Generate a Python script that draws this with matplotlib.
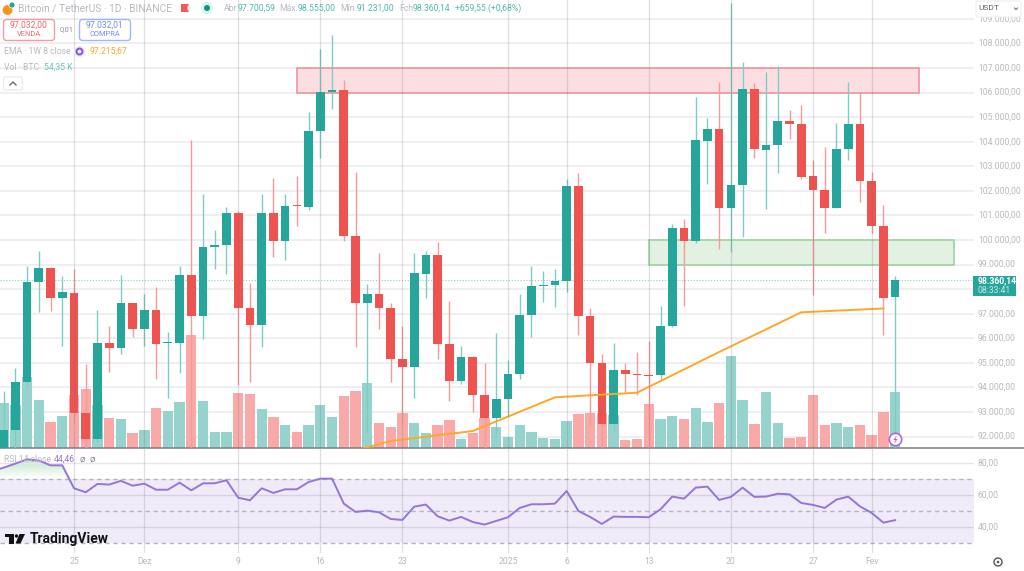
import numpy as np
import matplotlib
matplotlib.use("Agg")
import matplotlib.pyplot as plt
from matplotlib.patches import Rectangle, FancyBboxPatch, Circle

plt.rcParams['font.family'] = ['Roboto', 'DejaVu Sans']

# day index: 0 = 25 Nov 2024
first_day = -6
opens = [91455,92269,94223,98293,98862,97641,97857,92973,91903,95822,95606,97438,96380,97153,95798,95810,98577,
         96909,99717,99798,101101,97247,96542,101101,99974,101426,101357,104438,106026,106107,100177,97438,97804,
         97247,95159,94845,98630,99391,95769,94263,95252,93693,92757,93531,94548,96949,98130,98183,98333,102212,
         96921,95008,92513,94711,94560,94507,94507,96502,100490,99961,104044,104520,101304,102240,106148,103677,
         103868,104845,104735,102607,102049,101304,103706,104723,102403,100584,97700]
closes = [92269,94235,98293,98862,97641,97886,92961,91903,95810,95606,97438,96380,97153,95781,95838,98577,96909,
          99717,99798,101101,97234,96542,101101,99974,101398,101386,104451,106026,106107,100177,97426,97804,97234,
          95159,94845,98659,99391,95769,94263,95252,93693,92757,93531,94560,96949,98130,98183,98333,102212,96921,
          95008,92513,94711,94548,94495,94479,96514,100490,99961,104072,104520,101304,102240,106148,103706,103881,
          104845,104723,102578,102037,101304,103718,104723,102403,100584,97654,98360]
highs = [93856,94805,98956,99554,98903,98537,98822,94955,97153,96514,98577,97438,97804,98101,96270,98956,104072,
         101874,100409,101345,101195,98252,101874,102525,101874,102619,105224,107776,108345,106514,102782,98211,
         99485,97438,96502,99473,99554,99933,97519,95688,95293,94996,96217,95118,97804,98944,98753,98822,102485,
         102729,97247,95362,95810,95008,95444,95891,97316,100653,100857,105834,104980,106433,109648,107247,106392,
         106840,107096,105293,105496,103258,103787,104776,106445,106026,102770,101426,98555]
lows = [91400,91536,94031,97084,97112,95700,92566,91536,91781,94642,95362,96066,95688,94357,93571,94589,91536,
        95973,98822,98630,94100,94223,95659,99310,99188,100584,101223,103339,105334,99961,95659,92200,96380,94235,
        92472,93571,97641,95159,93462,94141,93002,91536,91996,92810,94357,96066,97491,97275,97898,96148,92472,
        91536,92188,93775,93693,91536,94345,96461,97316,99900,102281,99636,99526,100124,103339,101264,102741,
        104113,102485,97763,100287,101304,103258,101561,100287,96135,91231]

# volume in thousands of BTC (last bar 54.35 K)
volumes = [44,42,69,47,25,31,51,57,42,29,28,15,17,39,36,45,110,46,16,16,53,52,38,30,22,16,22,42,30,50,55,63,
           24,20,34,24,15,22,27,9,15,29,20,11,22,16,10,9,26,33,34,34,32,8,9,43,28,31,28,39,25,44,89,47,23,54,
           24,10,11,51,22,24,20,22,13,35,54.35]

ema_days = [20,27,34,41,48,55,62,69]
ema_vals = [90926,91821,92228,93600,93787,95444,97059,97215]

rsi_first_day = -7
rsi_vals = [75,77.3,79.8,82.5,81.7,78.75,78.75,64.4,61.9,67.1,66.7,69,66,67.3,63.5,63.5,67.9,63.1,67.5,67.5,
            69.4,58.5,56.9,64.4,61.5,63.75,63.75,68.3,70.4,70.4,54.8,49.6,50.4,49.4,45.2,44.6,52.9,54.2,46.9,
            44.2,46.5,43.3,41.7,44,46.3,52.1,54.4,54.4,54.8,62.7,50.2,46.5,42.1,46.7,46.5,46.5,46.3,51.25,59.2,
            57.9,64.8,65.4,57.1,59,64.8,59,59.2,61,60.6,55.2,54,52.1,57.3,59.2,53.1,49,42.9,44.46]

x_tick_days = [0,6,14,21,28,37,42,49,56,63,68]
x_tick_labels = ['25','Dez','9','16','23','2025','6','13','20','27','Fev']
price_ticks = list(range(92000,110000,1000))
hidden_price_labels = [98000]  # covered by the last-price tag in the reference
rsi_ticks = [40,60,80]
rsi_dash = [30,50,70]
sell_zone = (19.05,72.06,106000,107000)
buy_zone = (49.05,75.06,99000,100000)
last_price = 98360.14

UP = '#26a69a'; DOWN = '#ef5350'; UPV = '#96d3cc'; DOWNV = '#f8a9a8'
GRID = '#ebebed'; TXT = '#b8b9c0'
FS = 6.2

W, H = 1024, 571
fig = plt.figure(figsize=(W/100, H/100), dpi=100, facecolor='white')
def axpx(x0, y0, x1, y1, **k):
    return fig.add_axes([x0/W, 1-y1/H, (x1-x0)/W, (y1-y0)/H], **k)

RIGHT = 974
xlim = ((0-74)/11.73, (RIGHT-74)/11.73)
PX = 1/11.73
ax = axpx(0, 0, RIGHT, 448)
ax.set_xlim(*xlim)
ax.set_ylim(109770-40.7*448, 109770)
axv = ax.twinx()
axv.set_ylim(0, 448*0.97)
axv.set_zorder(1); ax.set_zorder(2); ax.patch.set_alpha(0); axv.patch.set_facecolor('white')

rsi = axpx(0, 449, RIGHT, 553)
rsi.set_xlim(*xlim)
rsi_ylim = (80-(553-463.3)/1.6, 80+(463.3-449)/1.6)
rsi.set_ylim(*rsi_ylim)

for a in (ax, axv, rsi):
    for s in a.spines.values():
        s.set_visible(False)
    a.set_xticks([]); a.set_yticks([])
    a.tick_params(length=0)

days = np.arange(first_day, first_day+len(opens))

label_x = (978-74)*PX
for p in price_ticks:
    axv.plot(xlim, [(p-ax.get_ylim()[0])/40.7*0.97]*2, color=GRID, lw=1.1, zorder=0)
    if p not in hidden_price_labels:
        ax.text(label_x, p, f"{p:,}".replace(',', '.')+',00', color=TXT, fontsize=FS,
                ha='left', va='center', clip_on=False, zorder=6)
for d in x_tick_days:
    ax.axvline(d, color='#70707a', lw=0.9, alpha=.22, zorder=8)
    rsi.axvline(d, color='#70707a', lw=0.9, alpha=.22, zorder=2)

# volume
vcols = [UPV if c >= o else DOWNV for o, c in zip(opens, closes)]
axv.bar(days, volumes, width=0.88, color=vcols, edgecolor='none', zorder=2)

# zones
for z, fc, ec in ((sell_zone, '#fcdcdf', '#e98e96'), (buy_zone, '#e1f0e1', '#97d097')):
    ax.add_patch(Rectangle((z[0], z[2]), z[1]-z[0], z[3]-z[2], facecolor=fc, alpha=.93,
                           edgecolor='none', zorder=1))
    ax.add_patch(Rectangle((z[0], z[2]), z[1]-z[0], z[3]-z[2], facecolor='none', edgecolor=ec,
                           lw=1.1, zorder=1.1))

ax.plot(xlim, [last_price]*2, color='#8fd0c8', lw=0.8, ls=(0, (1, 1.6)), zorder=2)

# candles
for d, o, h, l, c in zip(days, opens, highs, lows, closes):
    up = c >= o
    col = UP if up else DOWN
    wick = '#7ccdc4' if up else '#f79a9a'
    ax.plot([d, d], [l, h], color=wick, lw=1.0, solid_capstyle='butt', zorder=3)
    t, b = max(o, c), min(o, c)
    ax.add_patch(Rectangle((d-0.37, b), 0.74, max(t-b, 40), facecolor=col, edgecolor='none', zorder=4))

# EMA
ax.plot(ema_days, ema_vals, color='#ffa726', lw=1.4, zorder=5, solid_joinstyle='round')

# last price tag
ax.add_patch(Rectangle(((973-74)*PX, 109770-40.7*296), 43*PX, 40.7*20, facecolor=UP, edgecolor='none',
                       clip_on=False, zorder=7))
ax.text(label_x, 109770-40.7*281, '98.360,14', color='white', fontsize=FS, fontweight='bold',
        va='center', clip_on=False, zorder=8)
ax.text(label_x, 109770-40.7*290.5, '08:33:41', color='#c5ebe6', fontsize=FS, va='center', clip_on=False, zorder=8)

fig.add_artist(plt.Line2D([0, 1], [1-448/H]*2, color='#7c7e86', lw=1.1))

# RSI pane
rsi.axhspan(30, 70, color='#efebf8', lw=0, zorder=0)
for v in rsi_ticks:
    rsi.axhline(v, color='#e6e4ec' if v == 80 else '#d6d2e0', lw=1, zorder=1)
    rsi.text(label_x, v, f"{v},00", color=TXT, fontsize=FS, va='center', clip_on=False)
for v in rsi_dash:
    rsi.axhline(v, color='#b5b3bd', lw=1, ls=(0, (3.2, 2.6)), zorder=1)
rdays = np.arange(rsi_first_day, rsi_first_day+len(rsi_vals))
rv = np.array(rsi_vals)
poly = rsi.fill_between(rdays, 70, rv, where=rv >= 70, interpolate=True, color='none', lw=0)
t = np.linspace(0, 1, 64)[:, None, None]
g = (1-t)*np.array([0.74, 0.90, 0.77]).reshape(1, 1, 3) + t*np.array([1.0, 1.0, 1.0]).reshape(1, 1, 3)
im = rsi.imshow(g, extent=[xlim[0], xlim[1], 70, 83], origin='upper', aspect='auto', zorder=0.8)
im.set_clip_path(poly.get_paths()[0], transform=rsi.transData)
rsi.set_xlim(*xlim); rsi.set_ylim(*rsi_ylim)
rsi.plot(rdays, rv, color='#9575d5', lw=1.4, zorder=3)

# overlay for pixel-placed furniture
ov = fig.add_axes([0, 0, 1, 1], zorder=20)
ov.set_xlim(0, W); ov.set_ylim(H, 0); ov.axis('off'); ov.patch.set_alpha(0)

for d, lab in zip(x_tick_days, x_tick_labels):
    ov.text(74+11.73*d, 561.5, lab, color=TXT, fontsize=FS, ha='center', va='center')

# header
ov.add_patch(Circle((7.5, 10), 4.2, color='#f7931a'))
ov.add_patch(Circle((12, 5), 3, color='#26a69a', ec='white', lw=.5))
ov.text(18, 8.5, 'Bitcoin / TetherUS · 1D · BINANCE', color=TXT, fontsize=7.4, va='center')
ov.add_patch(plt.Polygon([[181, 4], [189, 4], [187, 8], [189, 12], [181, 12]], color='#f8575a', lw=0))
ov.add_patch(Circle((207, 8), 6, color='#dff2ef', lw=0))
ov.add_patch(Circle((207, 8), 3, color='#089981', lw=0))
head = [(224,'Abr',TXT),(238,'97.700,59','#52b8ac'),(279,'Máx.',TXT),(298,'98.555,00','#52b8ac'),
        (340,'Mín.',TXT),(357,'91.231,00','#52b8ac'),(399,'Fch',TXT),(413,'98.360,14','#52b8ac'),
        (455,'+659,55 (+0,68%)','#52b8ac')]
for x, s, c in head:
    ov.text(x, 8.5, s, color=c, fontsize=FS, va='center')

# buy / sell buttons
ov.add_patch(FancyBboxPatch((3.5, 19.5), 51, 21, boxstyle='round,pad=0,rounding_size=3', fc='white', ec='#f49da0', lw=1))
ov.text(29, 25.5, '97.032,00', color='#f0676a', fontsize=FS, ha='center', va='center')
ov.text(29, 35, 'VENDA', color='#f0676a', fontsize=5.4, ha='center', va='center')
ov.text(67, 30, '0,01', color='#8a8c93', fontsize=5.4, ha='center', va='center')
ov.add_patch(FancyBboxPatch((79.5, 19.5), 51, 21, boxstyle='round,pad=0,rounding_size=3', fc='white', ec='#9db9fb', lw=1))
ov.text(105, 25.5, '97.032,01', color='#6f8ff0', fontsize=FS, ha='center', va='center')
ov.text(105, 35, 'COMPRA', color='#6f8ff0', fontsize=5.4, ha='center', va='center')

# legend rows
ov.text(3.5, 51.5, 'EMA · 1W 8 close', color=TXT, fontsize=FS, va='center')
ov.add_patch(Circle((79.5, 51.5), 5.5, color='#efe9fb', lw=0))
ov.add_patch(Circle((79.5, 51.5), 3, fc='none', ec='#7e57e2', lw=1.4))
ov.text(90, 51.5, '97.215,67', color='#ffa726', fontsize=FS, va='center')
ov.text(3.5, 67.5, 'Vol · BTC', color=TXT, fontsize=FS, va='center')
ov.text(43.5, 67.5, '54,35 K', color='#6cc3b9', fontsize=FS, va='center')
ov.add_patch(FancyBboxPatch((3.5, 77), 19, 13, boxstyle='round,pad=0,rounding_size=2', fc='white', ec='#ebebee', lw=1))
ov.plot([10, 13, 16], [85, 82, 85], color='#6b6d75', lw=1)

# USDT selector
ov.add_patch(FancyBboxPatch((976, 1), 45, 16, boxstyle='round,pad=0,rounding_size=2', fc='white', ec='#eeeeee', lw=.8))
ov.text(978, 8.5, 'USDT', color='#5d5f68', fontsize=6.0, va='center')
ov.plot([1014.5, 1016, 1017.5], [8, 9.5, 8], color='#777', lw=.8)

# RSI label
ov.text(3.5, 459.5, 'RSI 14 close', color=TXT, fontsize=FS, va='center')
ov.text(54, 459.5, '44,46', color='#9575d5', fontsize=FS, va='center')
ov.text(79, 459.5, 'Ø', color='#77787f', fontsize=5.5, va='center')
ov.text(90, 459.5, 'Ø', color='#77787f', fontsize=5.5, va='center')

# TradingView logo
ov.text(30, 538.5, 'TradingView', color='#111216', fontsize=10.0, fontweight='bold', va='center')
ov.add_patch(Rectangle((5, 534), 9, 3, color='#111216', lw=0))
ov.add_patch(Rectangle((9, 534), 4.5, 9.5, color='#111216', lw=0))
ov.add_patch(Circle((16.5, 536), 1.7, color='#111216', lw=0))
ov.add_patch(plt.Polygon([[19.5, 534], [25, 534], [20.5, 543.5], [15.5, 543.5]], color='#111216', lw=0))

# lightning marker and settings icon
ov.add_patch(Circle((895.5, 439.5), 6.2, fc='#fbf7fe', ec='#ae5fd6', lw=1.1, zorder=10))
ov.add_patch(plt.Polygon([[897, 435], [893.5, 440], [895.5, 440], [894, 444], [897.5, 439], [895.5, 439]],
                         color='#d252c8', lw=0, zorder=11))
ov.add_patch(Circle((998, 562), 4, fc='white', ec='#55575f', lw=1))
ov.add_patch(Circle((998, 562), 1.3, fc='#55575f', lw=0))

fig.savefig('out.png', dpi=100, facecolor='white')
